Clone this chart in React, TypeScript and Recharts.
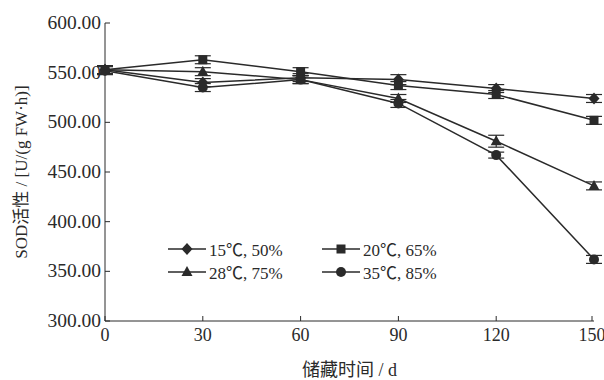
import React from 'react'
import { LineChart, Line, XAxis, YAxis, ErrorBar, Legend } from 'recharts'

const days = [0, 30, 60, 90, 120, 150]
const yTicks = [300, 350, 400, 450, 500, 550, 600]

const s15 = [553, 540, 545, 543, 534, 524]
const s20 = [553, 563, 551, 537, 528, 502]
const s28 = [553, 551, 543, 524, 481, 436]
const s35 = [552, 535, 543, 519, 467, 362]

const e15 = [4, 4, 4, 5, 4, 4]
const e20 = [4, 4, 4, 4, 4, 4]
const e28 = [4, 4, 4, 4, 6, 4]
const e35 = [4, 4, 4, 4, 3, 4]

const names = ['15℃, 50%', '20℃, 65%', '28℃, 75%', '35℃, 85%']

const data = days.map((d, i) => ({
  day: d,
  s15: s15[i],
  s20: s20[i],
  s28: s28[i],
  s35: s35[i],
  e15: e15[i],
  e20: e20[i],
  e28: e28[i],
  e35: e35[i],
}))

const INK = '#2a2a2a'
const FONT = '"Liberation Serif", "Noto Sans CJK SC", serif'

type Shape = 'diamond' | 'square' | 'triangle' | 'circle'

function Marker({ cx, cy, shape }: { cx: number; cy: number; shape: Shape }) {
  if (cx == null || cy == null) return null
  if (shape === 'diamond')
    return <polygon points={`${cx},${cy - 6} ${cx + 5.5},${cy} ${cx},${cy + 6} ${cx - 5.5},${cy}`} fill={INK} />
  if (shape === 'square') return <rect x={cx - 4.5} y={cy - 4.5} width={9} height={9} fill={INK} />
  if (shape === 'triangle')
    return <polygon points={`${cx},${cy - 6} ${cx + 5.5},${cy + 4} ${cx - 5.5},${cy + 4}`} fill={INK} />
  return <circle cx={cx} cy={cy} r={5} fill={INK} />
}

const shapes: Shape[] = ['diamond', 'square', 'triangle', 'circle']

const YTick = (props: any) => {
  const { x, y, payload } = props
  return (
    <g>
      <line x1={x} x2={x + 5} y1={y} y2={y} stroke={INK} />
      <text x={x - 4} y={y + 6} textAnchor="end" fontSize={19.5} fill={INK} fontFamily={FONT}>
        {Number(payload.value).toFixed(2)}
      </text>
    </g>
  )
}

const XTick = (props: any) => {
  const { x, y, payload } = props
  return (
    <g>
      <line x1={x} x2={x} y1={y} y2={y - 5} stroke={INK} />
      <text x={x} y={y + 20} textAnchor="middle" fontSize={18} fill={INK} fontFamily={FONT}>
        {payload.value}
      </text>
    </g>
  )
}

const YLabel = (props: any) => {
  const { viewBox } = props
  const cx = viewBox.x + 21
  const cy = viewBox.y + viewBox.height / 2
  return (
    <text
      x={cx}
      y={cy}
      transform={`rotate(-90 ${cx} ${cy})`}
      textAnchor="middle"
      dominantBaseline="central"
      fontSize={17}
      fill={INK}
      fontFamily={FONT}
    >
      SOD活性 / [U/(g FW·h)]
    </text>
  )
}

const XLabel = (props: any) => {
  const { viewBox } = props
  return (
    <text
      x={viewBox.x + viewBox.width / 2}
      y={viewBox.y + 55}
      textAnchor="middle"
      fontSize={18}
      fill={INK}
      fontFamily={FONT}
    >
      储藏时间 / d
    </text>
  )
}

const LegendBox = (props: any) => {
  const { payload } = props
  return (
    <div
      style={{
        display: 'grid',
        gridTemplateColumns: '154px 160px',
        rowGap: 2,
        fontFamily: FONT,
        fontSize: 17,
        color: INK,
      }}
    >
      {payload.map((p: any, i: number) => (
        <div key={p.value} style={{ display: 'flex', alignItems: 'center', height: 21 }}>
          <svg width={38} height={14} style={{ marginRight: 3 }}>
            <line x1={0} x2={38} y1={7} y2={7} stroke={INK} strokeWidth={1.5} />
            <Marker cx={19} cy={7} shape={shapes[i]} />
          </svg>
          <span>{p.value}</span>
        </div>
      ))}
    </div>
  )
}

const keys = ['s15', 's20', 's28', 's35']
const errKeys = ['e15', 'e20', 'e28', 'e35']

export default function App() {
  return (
    <div style={{ position: 'absolute', left: 0, top: 0, background: '#fff' }}>
      <LineChart width={604} height={380} data={data} margin={{ top: 23, right: 10, left: 0, bottom: 0 }}>
        <XAxis
          dataKey="day"
          type="number"
          domain={[0, 150]}
          ticks={days}
          height={59}
          tickSize={0}
          tickMargin={0}
          tickLine={false}
          tick={<XTick />}
          axisLine={{ stroke: INK }}
          label={<XLabel />}
        />
        <YAxis
          type="number"
          domain={[300, 600]}
          ticks={yTicks}
          width={105}
          tickSize={0}
          tickMargin={0}
          tickLine={false}
          tick={<YTick />}
          axisLine={{ stroke: INK }}
          label={<YLabel />}
        />
        <Legend
          verticalAlign="middle"
          align="center"
          content={<LegendBox />}
          wrapperStyle={{ left: 168, top: 238, width: 330 }}
        />
        {keys.map((k, i) => (
          <Line
            key={k}
            dataKey={k}
            name={names[i]}
            stroke={INK}
            strokeWidth={1.5}
            isAnimationActive={false}
            dot={(p: any) => <Marker key={`${k}-${p.index}`} cx={p.cx} cy={p.cy} shape={shapes[i]} />}
            activeDot={false}
          >
            <ErrorBar dataKey={errKeys[i]} width={8} stroke={INK} strokeWidth={1.2} direction="y" />
          </Line>
        ))}
      </LineChart>
    </div>
  )
}
